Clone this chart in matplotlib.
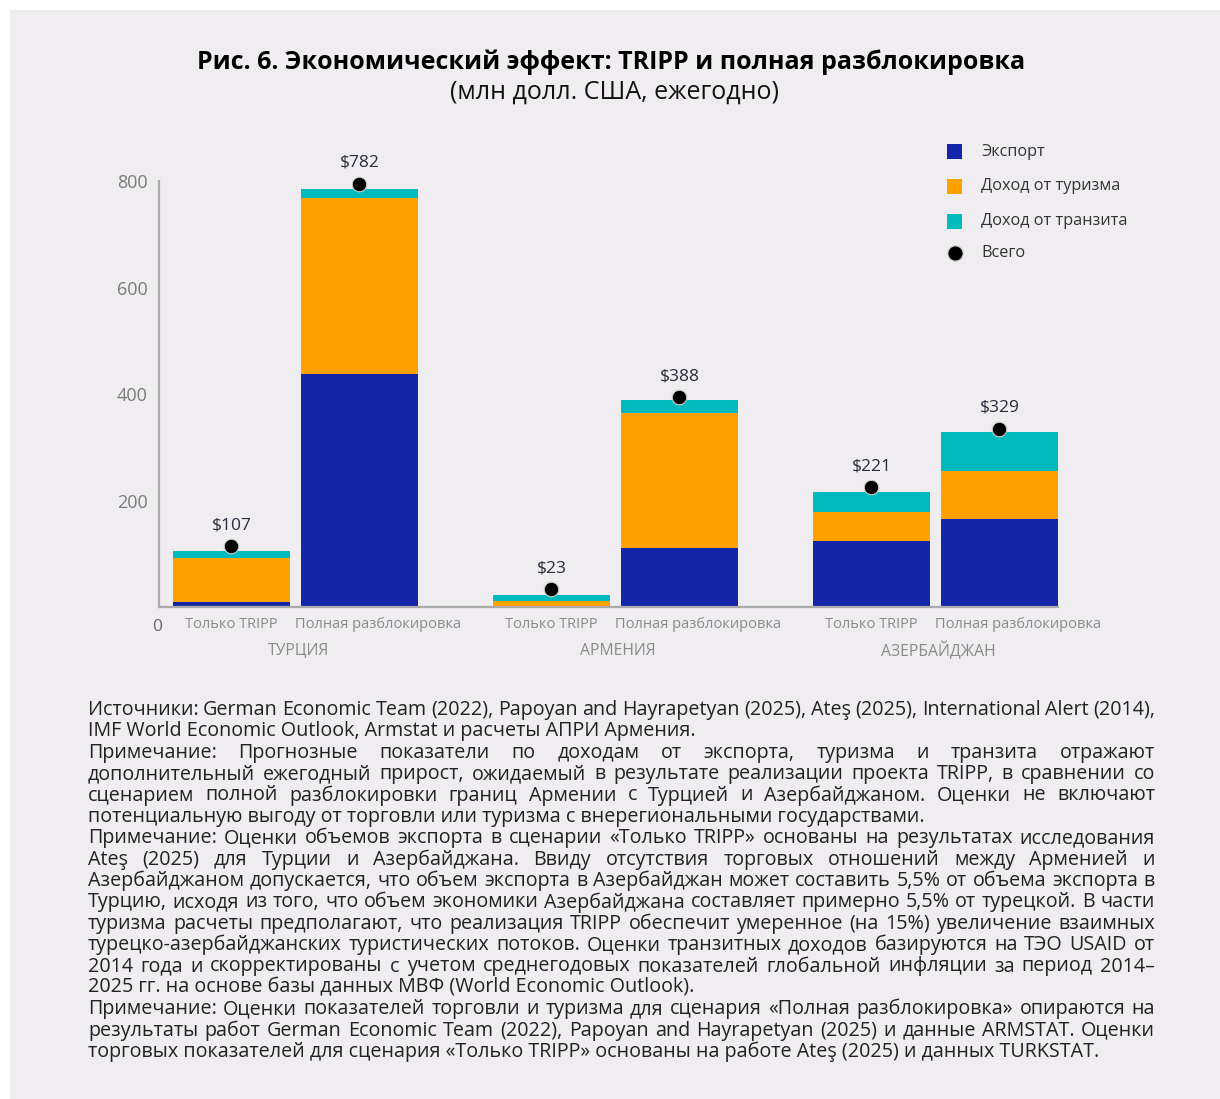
import matplotlib
matplotlib.use("Agg")
import matplotlib.pyplot as plt
from matplotlib.patches import Rectangle
from matplotlib.lines import Line2D
import numpy as np

plt.rcParams['font.family'] = ['Open Sans', 'DejaVu Sans']

W, H = 1220, 1099

# data (млн долл. США)
countries = ['ТУРЦИЯ', 'АРМЕНИЯ', 'АЗЕРБАЙДЖАН']
scenarios = ['Только TRIPP', 'Полная разблокировка']
export = [10.5, 438, 2.5, 111, 125, 165.5]
tourism = [82.5, 331, 9.5, 253, 54, 90.5]
transit = [12.6, 16, 11, 25, 37.5, 73]
total_dots = [115, 795, 34, 394, 225, 335]
total_labels = ['$107', '$782', '$23', '$388', '$221', '$329']

series_names = ['Экспорт', 'Доход от туризма', 'Доход от транзита']
series_colors = ['#1326a9', '#ffa100', '#00babd']

notes = [
    ("Источники: German Economic Team (2022), Papoyan and Hayrapetyan (2025), Ateş (2025), International Alert (2014),", True),
    ("IMF World Economic Outlook, Armstat и расчеты АПРИ Армения.", False),
    ("Примечание: Прогнозные показатели по доходам от экспорта, туризма и транзита отражают", True),
    ("дополнительный ежегодный прирост, ожидаемый в результате реализации проекта TRIPP, в сравнении со", True),
    ("сценарием полной разблокировки границ Армении с Турцией и Азербайджаном. Оценки не включают", True),
    ("потенциальную выгоду от торговли или туризма с внерегиональными государствами.", False),
    ("Примечание: Оценки объемов экспорта в сценарии «Только TRIPP» основаны на результатах исследования", True),
    ("Ateş (2025) для Турции и Азербайджана. Ввиду отсутствия торговых отношений между Арменией и", True),
    ("Азербайджаном допускается, что объем экспорта в Азербайджан может составить 5,5% от объема экспорта в", True),
    ("Турцию, исходя из того, что объем экономики Азербайджана составляет примерно 5,5% от турецкой. В части", True),
    ("туризма расчеты предполагают, что реализация TRIPP обеспечит умеренное (на 15%) увеличение взаимных", True),
    ("турецко-азербайджанских туристических потоков. Оценки транзитных доходов базируются на ТЭО USAID от", True),
    ("2014 года и скорректированы с учетом среднегодовых показателей глобальной инфляции за период 2014–", True),
    ("2025 гг. на основе базы данных МВФ (World Economic Outlook).", False),
    ("Примечание: Оценки показателей торговли и туризма для сценария «Полная разблокировка» опираются на", True),
    ("результаты работ German Economic Team (2022), Papoyan and Hayrapetyan (2025) и данные ARMSTAT. Оценки", True),
    ("торговых показателей для сценария «Только TRIPP» основаны на работе Ateş (2025) и данных TURKSTAT.", False),
]

BG = '#efedf0'

fig = plt.figure(figsize=(W / 100, H / 100), dpi=100, facecolor='white')
fig.add_artist(Rectangle((10 / W, 0), 1 - 10 / W, 1 - 10 / H, transform=fig.transFigure,
                         facecolor=BG, edgecolor='none', zorder=-10))


def fx(px):
    return px / W


def fy(py):
    return 1 - py / H


ax = fig.add_axes([fx(159), fy(607.3), fx(1058) - fx(159), fy(181) - fy(607.3)])
ax.set_facecolor('none')

x = np.array([0, 1, 2.5, 3.5, 5, 6])
bw = 0.914
bottom = np.zeros(len(x))
for vals, name, col in zip([export, tourism, transit], series_names, series_colors):
    ax.bar(x, vals, bw, bottom=bottom, color=col, label=name, zorder=2)
    bottom += np.array(vals)

ax.scatter(x, total_dots, s=110, color='black', edgecolor='#d0d0d0', linewidth=0.8,
           zorder=4, clip_on=False)
for xi, yi, lab in zip(x, total_dots, total_labels):
    ax.annotate(lab, (xi, yi), xytext=(0, 15), textcoords='offset points',
                ha='center', va='center', fontsize=12.5, color='#2b2b3b')

ax.set_xlim(-0.565, 6.457)
ax.set_ylim(0, 800)
for s in ['top', 'right']:
    ax.spines[s].set_visible(False)
for s in ['left', 'bottom']:
    ax.spines[s].set_color('#aaaaaa')
    ax.spines[s].set_linewidth(1.6)

ax.set_yticks([200, 400, 600, 800])
ax.tick_params(axis='y', length=0, pad=8, labelsize=13, labelcolor='#7a7a7a')
ax.set_xticks([])
ax.annotate('0', (0, 0), xycoords='axes fraction', xytext=(-1, -14), textcoords='offset points',
            ha='center', va='center', fontsize=12.5, color='#666666')

# scenario labels under the bars (the second one sits a little to the right)
for i, xi in enumerate(x):
    shift = 0 if i % 2 == 0 else 13.5
    ax.annotate(scenarios[i % 2], (xi, 0), xycoords=('data', 'axes fraction'),
                xytext=(shift, -12.3), textcoords='offset points', ha='center', va='center',
                fontsize=10.5, color='#8a8a8a')

for i, c in enumerate(countries):
    gx = (x[2 * i] + x[2 * i + 1]) / 2
    ax.annotate(c, (gx, 0), xycoords=('data', 'axes fraction'), xytext=(2, -31.5),
                textcoords='offset points', ha='center', va='center',
                fontsize=11.3, color='#8a8a8a')

# title
fig.text(fx(611), fy(62), 'Рис. 6. Экономический эффект: TRIPP и полная разблокировка',
         ha='center', va='center', fontsize=18, fontweight='bold', color='black')
fig.text(fx(614), fy(92), '(млн долл. США, ежегодно)',
         ha='center', va='center', fontsize=18, color='#111111')

# legend
leg_y = [151.7, 186, 221, 253]
for yy, col in zip(leg_y[:3], series_colors):
    fig.add_artist(Rectangle((fx(947), fy(yy + 7.5)), 15 / W, 15 / H, transform=fig.transFigure,
                             facecolor=col, edgecolor='none'))
fig.add_artist(Line2D([fx(954.5)], [fy(leg_y[3])], marker='o', markersize=11,
                      color='black', markeredgecolor='#d0d0d0', markeredgewidth=0.8,
                      transform=fig.transFigure))
for yy, lab in zip(leg_y, series_names + ['Всего']):
    fig.text(fx(981), fy(yy), lab, ha='left', va='center', fontsize=11.7, color='#333333')

# justified footnote
renderer = fig.canvas.get_renderer()
x0, x1 = 88, 1155
y0, dy = 710, 21.375
note_kw = dict(fontsize=14.2, color='#222222', va='center', ha='left')
for i, (line, justify) in enumerate(notes):
    yy = fy(y0 + i * dy)
    if not justify:
        fig.text(fx(x0), yy, line, **note_kw)
        continue
    words = line.split(' ')
    texts = [fig.text(0, yy, w, **note_kw) for w in words]
    widths = [t.get_window_extent(renderer).width for t in texts]
    gap = (x1 - x0 - sum(widths)) / (len(words) - 1)
    pos = x0
    for t, w in zip(texts, widths):
        t.set_x(fx(pos))
        pos += w + gap

fig.savefig('out.png', dpi=100, facecolor=fig.get_facecolor())
